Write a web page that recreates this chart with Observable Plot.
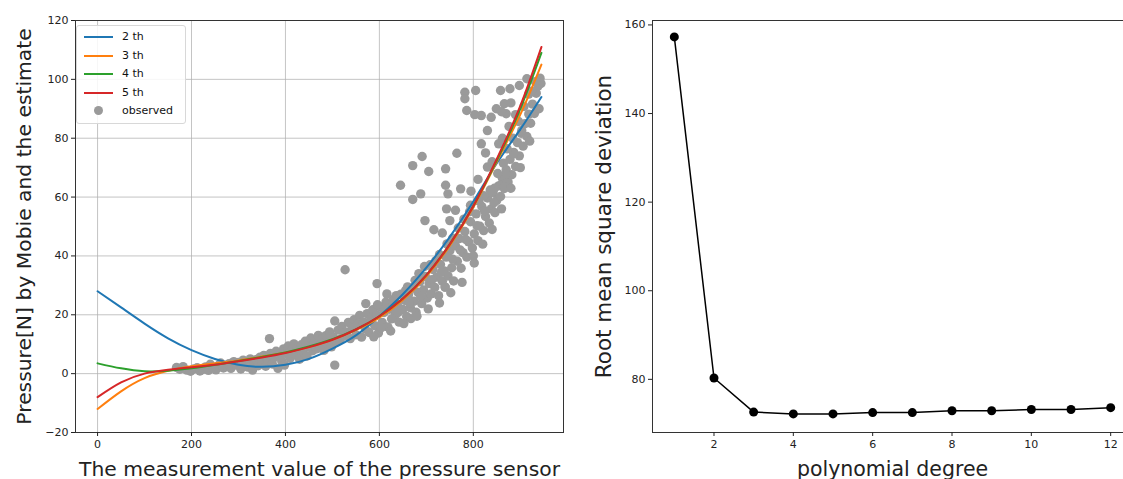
<!DOCTYPE html>
<html>
<head>
<meta charset="utf-8">
<script src="https://cdn.jsdelivr.net/npm/d3@7"></script>
<script src="https://cdn.jsdelivr.net/npm/@observablehq/plot@0.6"></script>
<style>
  html, body { margin: 0; padding: 0; background: #fff; }
  #wrap { position: relative; width: 1123px; height: 479px; overflow: hidden; font-family: "DejaVu Sans", sans-serif; }
  #left { position: absolute; left: 0; top: 0; width: 580px; height: 479px; }
  #right { position: absolute; left: 580px; top: 0; width: 552px; height: 479px; }
  #left svg, #right svg { max-width: none !important; }
  #legend { position: absolute; left: 76px; top: 25px; width: 108px; height: 97px; border: 1px solid #d8d8d8; border-radius: 3px; background: rgba(255,255,255,0.85); font-size: 11px; color: #111; }
  .row { position: absolute; left: 0; height: 14px; width: 108px; }
  .sw { position: absolute; left: 7px; top: 6px; width: 29px; height: 2px; }
  .dot { position: absolute; left: 17px; top: 2px; width: 9px; height: 9px; border-radius: 50%; background: #9a9a9a; }
  .lab { position: absolute; left: 45px; top: 0px; line-height: 14px; }
</style>
</head>
<body>
<div id="wrap">
  <div id="left"></div>
  <div id="right"></div>
  <div id="legend"></div>
</div>
<script>
// ---------- Left panel data ----------
const curveX = [0, 50, 100, 150, 200, 250, 300, 350, 400, 450, 500, 550, 600, 650, 700, 750, 800, 850, 900, 945];
const deg2Y = [28, 22.5, 17, 12, 8, 5, 3, 2.3, 3, 5, 8.5, 13, 19.5, 27, 36, 46.5, 58.5, 71.5, 83, 94];
const deg3Y = [-12, -6, -1.5, 1, 2.5, 3.5, 4.5, 5.8, 7.2, 9, 11.5, 14.8, 19, 25, 33, 43.5, 56.5, 72, 88, 105];
const deg4Y = [3.5, 1.8, 0.8, 1, 1.8, 3, 4.3, 5.7, 7.2, 9.2, 11.7, 15, 19.5, 25.5, 33.5, 44, 57, 72.5, 90, 109];
const deg5Y = [-8, -3, 0, 1.3, 2.2, 3, 4.2, 5.5, 7, 9, 11.5, 15, 19.5, 25.5, 33.5, 44, 57, 73, 91, 111];
const seriesNames = ["2 th", "3 th", "4 th", "5 th"];
const seriesColors = ["#1f77b4", "#ff7f0e", "#2ca02c", "#d62728"];
const observedLabel = "observed";
const xTicksLeft = [0, 200, 400, 600, 800];
const yTicksLeft = [-20, 0, 20, 40, 60, 80, 100, 120];
const xLabelLeft = "The measurement value of the pressure sensor";
const yLabelLeft = "Pressure[N] by Mobie and the estimate";

const observed = [
  [168,2.1],[175,1.5],[182,2.4],[190,1.2],[198,0.8],[205,1.6],[212,2.0],[218,0.9],[224,1.4],[230,2.3],[236,1.1],[240,3.2],[246,2.0],[252,1.3],[258,2.8],[262,3.6],[268,1.9],[274,2.6],[280,3.4],[284,1.8],[290,4.1],[295,2.9],[300,3.8],[305,1.6],[310,4.6],[315,3.1],[320,2.2],[325,5.0],[330,1.2],[334,3.6],[338,4.8],[342,2.7],[346,5.6],[350,3.9],[354,6.2],[358,2.5],[362,4.7],[366,11.9],[368,6.9],[372,3.3],[376,5.4],[380,7.6],[384,1.8],[388,6.1],[392,4.3],[396,8.4],[398,2.9],
  [402,6.8],[406,9.4],[410,5.2],[414,7.9],[418,10.1],[422,6.3],[426,8.7],[430,4.9],[434,9.8],[438,7.2],[442,11.0],[446,6.0],[450,9.2],[454,12.1],[458,7.8],[462,10.6],[466,8.4],[470,13.0],[474,9.6],[478,11.8],[482,7.9],[486,12.9],[490,10.3],[494,14.2],[498,9.1],[502,12.4],[505,2.9],[505,17.9],[508,10.8],[512,14.8],[516,11.6],[520,16.0],[524,12.7],[527,35.3],[530,14.1],[534,17.4],[538,11.9],[542,15.6],[546,18.3],[550,13.2],[554,16.9],[558,19.8],
  [562,12.4],[566,17.6],[570,15.2],[571,23.8],[574,20.4],[578,14.0],[582,18.8],[586,21.7],[590,16.3],[594,19.9],[595,30.6],[598,13.8],[602,22.6],[606,17.4],[610,20.8],[614,24.3],[618,15.9],[622,21.9],[626,18.6],[630,25.2],[634,20.0],[638,23.6],[642,17.5],[646,27.0],[650,21.8],[654,24.9],[658,19.4],[662,26.8],
  [666,22.4],[667,18.7],[670,29.1],[674,24.6],[678,20.9],[682,27.7],[686,31.2],[690,23.8],[694,28.4],[698,33.0],[702,25.7],[706,30.6],[710,27.1],[714,35.4],[718,29.3],[722,32.8],[726,26.5],[730,37.1],[734,31.4],[738,34.9],[740,29.4],[742,39.6],[746,33.2],[750,41.8],[754,36.0],[758,31.5],[762,43.4],
  [766,38.2],[770,45.9],[774,35.8],[778,41.1],[782,48.3],[786,39.6],[790,44.8],[794,51.6],[798,42.7],[802,37.6],[802,47.5],[806,54.3],[810,45.2],[814,50.1],[818,56.8],[822,48.6],[826,53.4],[830,59.7],[834,51.2],[838,56.0],[842,61.5],[846,54.7],[850,58.9],
  [854,63.8],[858,60.2],[862,66.4],[866,62.9],[870,69.3],[874,65.1],[878,72.8],[882,67.6],[886,75.2],[890,70.4],[894,78.5],[898,74.0],[902,81.7],[906,77.3],[910,84.9],[914,80.6],[918,88.2],[922,85.1],[926,91.6],[930,88.4],[934,95.3],[938,97.8],[942,100.4],[944,98.6],
  [645,64.0],[671,70.7],[691,73.8],[705,68.7],[671,59.2],[688,61.1],[697,52.0],[716,48.9],[734,47.8],[741,69.6],[765,74.9],[741,64.0],[746,61.1],[762,55.5],[750,52.0],[782,95.6],[782,93.4],[786,89.4],[805,96.2],[773,62.8],[817,87.7],[838,87.1],[817,78.1],[830,82.6],[854,78.1],[830,70.2],[858,96.2],[878,96.8],[898,97.9],[914,100.2],[866,91.7],[870,88.3],[858,64.0],[870,67.9],[886,74.7],[903,82.6],[918,95.0],[740,29.4],[794,57.2],[743,56.0],
  [845,63.0],[866,63.5],[803,88.0],[849,90.0],[860,89.0],[826,75.0],[840,72.0],[862,80.0],[876,84.0],[890,88.0],[880,92.0],[810,66.0],[822,60.5],[795,62.0],[780,52.5],[756,46.0],[728,40.5],[708,37.0],[684,34.0],[660,29.5],[636,26.5],[612,22.0],[588,12.5],[624,14.5],[652,17.0],[680,19.5],[704,22.0],[728,24.0],[752,27.5],[776,31.0],[800,40.0],[820,44.0],[840,49.0],[860,56.0],[880,63.0],[900,70.0],[920,79.0],[940,90.0],
  [596,23.4],[604,15.6],[616,27.1],[628,22.9],[640,20.8],[656,28.3],[664,24.0],[676,31.7],[688,26.2],[696,36.4],[712,31.9],[720,38.3],[732,34.4],[744,44.1],[756,38.9],[768,49.5],[772,42.0],[784,45.6],[792,55.0],[808,50.3],[812,58.7],[824,55.3],[836,62.4],[844,58.1],[852,68.0],[864,71.5],[872,76.4],[884,80.0],[896,85.7],[908,90.8],[924,96.0],[932,99.2]
];

// ---------- Right panel data ----------
const degrees = [1, 2, 3, 4, 5, 6, 7, 8, 9, 10, 11, 12];
const rmse = [157.3, 80.3, 72.6, 72.2, 72.2, 72.5, 72.5, 72.9, 72.9, 73.2, 73.2, 73.6];
const xTicksRight = [2, 4, 6, 8, 10, 12];
const yTicksRight = [80, 100, 120, 140, 160];
const xLabelRight = "polynomial degree";
const yLabelRight = "Root mean square deviation";

// ---------- Build tables ----------
const allY = [deg2Y, deg3Y, deg4Y, deg5Y];
const curves = [];
seriesNames.forEach((name, i) => {
  curveX.forEach((x, j) => curves.push({series: name, x, y: allY[i][j]}));
});
const obs = observed.map(([x, y]) => ({x, y}));
const rmseData = degrees.map((d, i) => ({d, v: rmse[i]}));

const font = "DejaVu Sans, sans-serif";
const grid = {stroke: "#b0b0b0", strokeOpacity: 0.75, strokeWidth: 1};

const left = Plot.plot({
  width: 580,
  height: 479,
  marginLeft: 75,
  marginRight: 17,
  marginTop: 20,
  marginBottom: 47,
  style: {fontFamily: font, fontSize: "11px", color: "#222", background: "#fff"},
  x: {domain: [-47, 992]},
  y: {domain: [-20, 120]},
  marks: [
    Plot.gridX(xTicksLeft, grid),
    Plot.gridY(yTicksLeft, grid),
    Plot.dot(obs, {x: "x", y: "y", r: 4.7, fill: "#9a9a9a", stroke: "none"}),
    Plot.line(curves, {x: "x", y: "y", z: "series", stroke: d => seriesColors[seriesNames.indexOf(d.series)], strokeWidth: 2, curve: "natural"}),
    Plot.frame({stroke: "#333", strokeWidth: 1}),
    Plot.axisX({ticks: xTicksLeft, tickSize: 4, tickPadding: 4, label: xLabelLeft, labelArrow: "none", labelAnchor: "center", labelOffset: 43, fontSize: 11}),
    Plot.axisY({ticks: yTicksLeft, tickSize: 4, tickPadding: 3, label: yLabelLeft, labelArrow: "none", labelAnchor: "center", labelOffset: 58.5, fontSize: 11})
  ]
});
document.getElementById("left").appendChild(left);

const right = Plot.plot({
  width: 552,
  height: 479,
  marginLeft: 72,
  marginRight: 0,
  marginTop: 20,
  marginBottom: 47,
  style: {fontFamily: font, fontSize: "11px", color: "#222", background: "#fff"},
  x: {domain: [0.45, 12.55]},
  y: {domain: [68, 161]},
  marks: [
    Plot.line(rmseData, {x: "d", y: "v", stroke: "#000", strokeWidth: 1.5}),
    Plot.dot(rmseData, {x: "d", y: "v", r: 4.5, fill: "#000", stroke: "none"}),
    Plot.frame({stroke: "#333", strokeWidth: 1}),
    Plot.axisX({ticks: xTicksRight, tickSize: 4, tickPadding: 4, label: xLabelRight, labelArrow: "none", labelAnchor: "center", labelOffset: 43, fontSize: 11}),
    Plot.axisY({ticks: yTicksRight, tickSize: 4, tickPadding: 3, label: yLabelRight, labelArrow: "none", labelAnchor: "center", labelOffset: 56.5, fontSize: 11})
  ]
});
document.getElementById("right").appendChild(right);

// axis label sizes (matched to the reference) and strip any arrow glyphs
const labelSizes = [{x: "20.3px", y: "20.3px"}, {x: "20.5px", y: "21.5px"}];
[left, right].forEach((svg, k) => {
  svg.querySelectorAll("[aria-label='x-axis label'] text").forEach(t => {
    t.style.fontSize = labelSizes[k].x;
    t.setAttribute("fill", "#222");
    t.textContent = t.textContent.replace(/\s*[→↑←↓]\s*/g, "");
  });
  svg.querySelectorAll("[aria-label='y-axis label'] text").forEach(t => {
    t.style.fontSize = labelSizes[k].y;
    t.setAttribute("fill", "#222");
    t.textContent = t.textContent.replace(/\s*[→↑←↓]\s*/g, "");
  });
});

// ---------- Legend ----------
const legend = document.getElementById("legend");
const rowsTop = [4, 22.5, 41, 59.5, 78];
seriesNames.forEach((name, i) => {
  const r = document.createElement("div");
  r.className = "row";
  r.style.top = rowsTop[i] + "px";
  r.innerHTML = `<span class="sw" style="background:${seriesColors[i]}"></span><span class="lab">${name}</span>`;
  legend.appendChild(r);
});
const r = document.createElement("div");
r.className = "row";
r.style.top = rowsTop[4] + "px";
r.innerHTML = `<span class="dot"></span><span class="lab">${observedLabel}</span>`;
legend.appendChild(r);
</script>
</body>
</html>
